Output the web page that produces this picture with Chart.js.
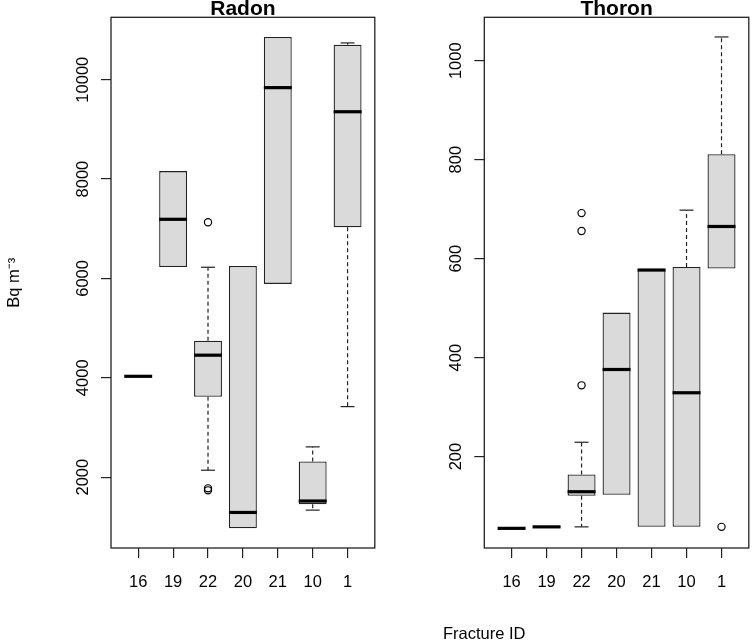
<!DOCTYPE html>
<html>
<head>
<meta charset="utf-8">
<script src="https://cdn.jsdelivr.net/npm/chart.js@4.4.0/dist/chart.umd.min.js"></script>
<style>
html,body{margin:0;padding:0;background:#fff;}
#wrap{position:relative;width:754px;height:642px;overflow:hidden;background:#fff;}
#c1{position:absolute;left:0;top:0;}
#c2{position:absolute;left:380px;top:0;}
#xlab{position:absolute;left:443px;top:625px;font-family:"Liberation Sans",Arial,sans-serif;font-size:16.5px;line-height:16.5px;color:#000;white-space:nowrap;}
</style>
</head>
<body>
<div id="wrap">
<canvas id="c1" width="380" height="642"></canvas>
<canvas id="c2" width="374" height="642"></canvas>
<div id="xlab">Fracture ID</div>
</div>
<script>
// ---- data ----
const categories = ['16', '19', '22', '20', '21', '10', '1'];

// Radon (Bq m-3): lower whisker, Q1, median, Q3, upper whisker, outliers
const radonLow    = [4030, 6230, 2140,  970,  5890, 1337,  3420];
const radonQ1     = [4030, 6230, 3620,  970,  5890, 1455,  7030];
const radonMedian = [4030, 7190, 4455, 1290,  9840, 1520,  9355];
const radonQ3     = [4030, 8160, 4745, 6250, 10860, 2315, 10705];
const radonHigh   = [4030, 8160, 6225, 6250, 10860, 2610, 10740];
const radonOutliers = [[], [], [7130, 1775, 1735], [], [], [], []];
const radonTicks  = [2000, 4000, 6000, 8000, 10000];

// Thoron (Bq m-3)
const thoronLow    = [55, 58,  58, 123,  58,  58,  580];
const thoronQ1     = [55, 58, 121, 123,  58,  58,  580];
const thoronMedian = [55, 58, 129, 376, 577, 329,  665];
const thoronQ3     = [55, 58, 164, 491, 579, 583,  811];
const thoronHigh   = [55, 58, 229, 491, 579, 698, 1048];
const thoronOutliers = [[], [], [692, 656, 344], [], [], [], [58]];
const thoronTicks  = [200, 400, 600, 800, 1000];

const FONT = '"Liberation Sans", Arial, sans-serif';

function rExtend(lowArr, highArr, outArr) {
  let mn = Math.min(...lowArr), mx = Math.max(...highArr);
  outArr.forEach(o => o.forEach(v => { mn = Math.min(mn, v); mx = Math.max(mx, v); }));
  const pad = (mx - mn) * 0.04;
  return [mn - pad, mx + pad];
}

const boxParts = {
  id: 'boxParts',
  afterDatasetsDraw(chart, args, opts) {
    const {ctx, chartArea} = chart;
    const xs = chart.scales.x, ys = chart.scales.y;
    const meta = chart.getDatasetMeta(0);
    const s = opts.stats;
    ctx.save();
    for (let i = 0; i < s.med.length; i++) {
      const bar = meta.data[i];
      const cx = xs.getPixelForValue(i + 1);
      const w = bar.width;
      const yHigh = ys.getPixelForValue(s.high[i]);
      const yQ3 = ys.getPixelForValue(s.q3[i]);
      const yQ1 = ys.getPixelForValue(s.q1[i]);
      const yLow = ys.getPixelForValue(s.low[i]);
      const yMed = ys.getPixelForValue(s.med[i]);
      ctx.strokeStyle = '#222';
      ctx.lineWidth = 1.2;
      ctx.lineCap = 'butt';
      if (s.high[i] > s.q3[i]) {
        ctx.setLineDash([4, 3]);
        ctx.beginPath(); ctx.moveTo(cx, yQ3); ctx.lineTo(cx, yHigh); ctx.stroke();
        ctx.setLineDash([]);
        ctx.beginPath(); ctx.moveTo(cx - w / 4, yHigh); ctx.lineTo(cx + w / 4, yHigh); ctx.stroke();
      }
      if (s.low[i] < s.q1[i]) {
        ctx.setLineDash([4, 3]);
        ctx.beginPath(); ctx.moveTo(cx, yQ1); ctx.lineTo(cx, yLow); ctx.stroke();
        ctx.setLineDash([]);
        ctx.beginPath(); ctx.moveTo(cx - w / 4, yLow); ctx.lineTo(cx + w / 4, yLow); ctx.stroke();
      }
      ctx.strokeStyle = '#000';
      ctx.lineWidth = 3.2;
      ctx.beginPath(); ctx.moveTo(cx - w / 2, yMed); ctx.lineTo(cx + w / 2, yMed); ctx.stroke();
    }
    // plot frame
    ctx.strokeStyle = '#222';
    ctx.lineWidth = 1.3;
    ctx.strokeRect(chartArea.left, chartArea.top, chartArea.right - chartArea.left, chartArea.bottom - chartArea.top);
    // rotated y tick labels
    ctx.fillStyle = '#000';
    ctx.font = '16.5px ' + FONT;
    ctx.textAlign = 'center';
    ctx.textBaseline = 'alphabetic';
    ys.ticks.forEach(t => {
      const y = ys.getPixelForValue(t.value);
      ctx.save();
      ctx.translate(chartArea.left - 23.5, y);
      ctx.rotate(-Math.PI / 2);
      ctx.fillText(String(t.value), 0, 0);
      ctx.restore();
    });
    ctx.restore();
  }
};

function makeChart(canvasId, title, yTitle, low, q1, med, q3, high, outliers, ticks, yAxisWidth, rightPad) {
  const [ymin, ymax] = rExtend(low, high, outliers);
  const n = categories.length;
  const xmin = 0.5 - 0.04 * n, xmax = n + 0.5 + 0.04 * n;
  const boxData = categories.map((c, i) => ({x: i + 1, y: [q1[i], q3[i]]}));
  const outData = [];
  outliers.forEach((arr, i) => arr.forEach(v => outData.push({x: i + 1, y: v})));
  return new Chart(document.getElementById(canvasId), {
    type: 'bar',
    data: {
      datasets: [
        {
          type: 'bar',
          data: boxData,
          backgroundColor: '#DADADA',
          borderColor: '#222',
          borderWidth: 1.3,
          borderSkipped: false,
          barPercentage: 1.0,
          categoryPercentage: 0.8
        },
        {
          type: 'scatter',
          data: outData,
          pointRadius: 3.6,
          pointStyle: 'circle',
          borderColor: '#000',
          borderWidth: 1.2,
          backgroundColor: 'rgba(0,0,0,0)'
        }
      ]
    },
    options: {
      responsive: false,
      animation: false,
      devicePixelRatio: 1,
      layout: {padding: {left: 0, right: rightPad, top: 0, bottom: 0}},
      plugins: {
        legend: {display: false},
        tooltip: {enabled: false},
        title: {
          display: true,
          text: title,
          fullSize: false,
          color: '#000',
          font: {family: FONT, size: 21, weight: 'bold', lineHeight: 0.8},
          padding: {top: 0.5, bottom: 0}
        },
        boxParts: {stats: {low: low, q1: q1, med: med, q3: q3, high: high}}
      },
      scales: {
        x: {
          type: 'linear',
          min: xmin,
          max: xmax,
          offset: false,
          afterBuildTicks: s => { s.ticks = categories.map((c, i) => ({value: i + 1})); },
          afterFit: s => { s.height = 94; },
          ticks: {
            autoSkip: false,
            maxRotation: 0,
            minRotation: 0,
            color: '#000',
            padding: 15,
            font: {family: FONT, size: 16.5},
            callback: v => categories[Math.round(v) - 1]
          },
          grid: {offset: false, drawOnChartArea: false, drawTicks: true, tickLength: 10, color: '#222', lineWidth: 1.2},
          border: {display: false}
        },
        y: {
          type: 'linear',
          min: ymin,
          max: ymax,
          afterBuildTicks: s => { s.ticks = ticks.map(v => ({value: v})); },
          afterFit: s => { s.width = yAxisWidth; },
          ticks: {display: false},
          grid: {offset: false, drawOnChartArea: false, drawTicks: true, tickLength: 10, color: '#222', lineWidth: 1.2},
          border: {display: false},
          title: {
            display: !!yTitle,
            text: yTitle || '',
            color: '#000',
            font: {family: FONT, size: 16.5},
            padding: {top: 4.4, bottom: 0}
          }
        }
      }
    },
    plugins: [boxParts]
  });
}

makeChart('c1', 'Radon', 'Bq m\u207B\u00B3', radonLow, radonQ1, radonMedian, radonQ3, radonHigh, radonOutliers, radonTicks, 111, 3);
makeChart('c2', 'Thoron', null, thoronLow, thoronQ1, thoronMedian, thoronQ3, thoronHigh, thoronOutliers, thoronTicks, 104.3, 2);
</script>
</body>
</html>
